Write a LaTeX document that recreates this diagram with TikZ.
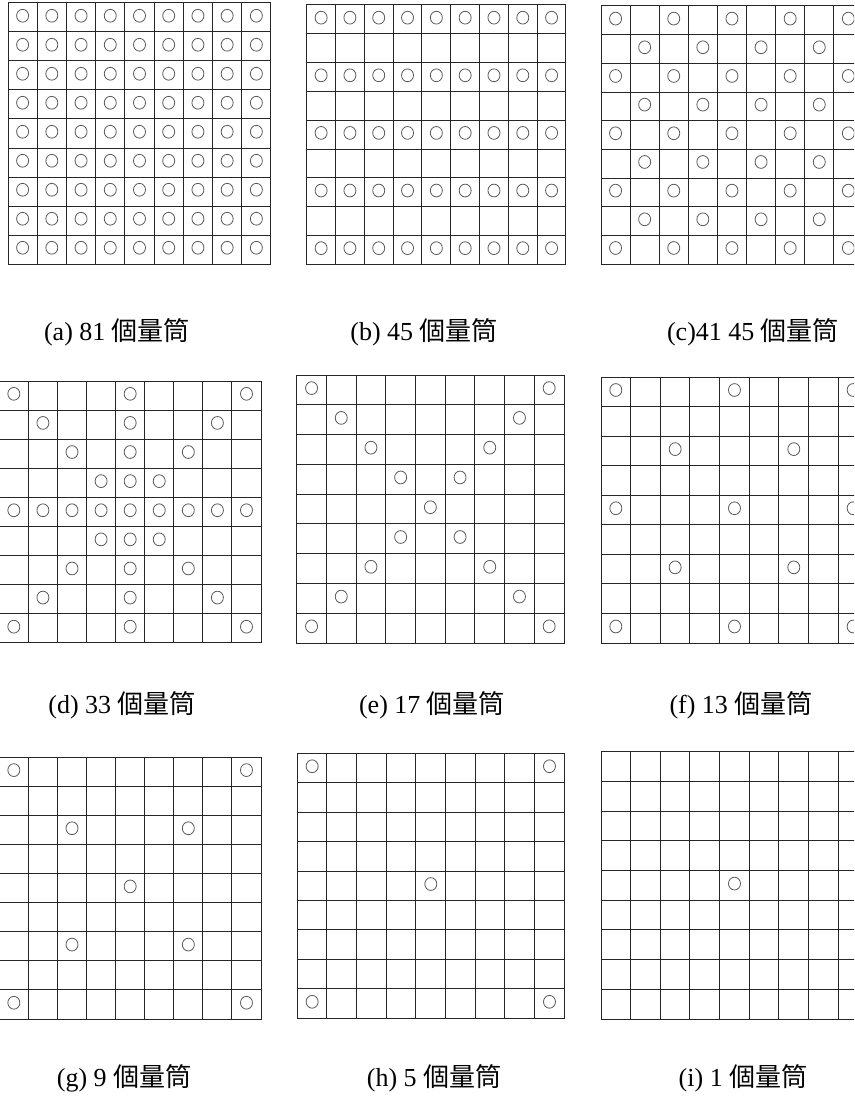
\documentclass[tikz,border=0pt]{standalone}
\usepackage{fontspec}
\setmainfont{Liberation Serif}
\newfontfamily\cjk{Noto Sans CJK TC}
\usetikzlibrary{positioning}

% 9x9 board in cell units
\newcommand{\ninegrid}{%
  \foreach \k in {0,...,9} {
    \draw[gridline] (\k,0) -- (\k,9);
    \draw[gridline] (0,\k) -- (9,\k);
  }}
\newcommand{\hole}[2]{\draw[holeline] (#2+0.5,#1+0.44) ellipse [x radius=6pt, y radius=6.4pt];}

\begin{document}
\begin{tikzpicture}[x=1pt,y=-1pt,
    gridline/.style={black!85,line width=1pt,line cap=rect},
    holeline/.style={black!65,line width=0.8pt},
    caption/.style={font=\fontsize{26}{30}\selectfont,inner sep=0pt}
  ]
  \useasboundingbox (0,0) rectangle (854,1097);
  \clip (0,0) rectangle (854,1097);

  % (a) every cell
  \begin{scope}[shift={(8pt,-3pt)},x=29.22pt,y=-29pt]
    \ninegrid
    \foreach \r in {0,...,8} \foreach \c in {0,...,8} {\hole{\r}{\c}}
  \end{scope}
  % (b) even rows
  \begin{scope}[shift={(306.7pt,-5pt)},x=28.81pt,y=-28.81pt]
    \ninegrid
    \foreach \r in {0,2,...,8} \foreach \c in {0,...,8} {\hole{\r}{\c}}
  \end{scope}
  % (c) checker
  \begin{scope}[shift={(601pt,-6pt)},x=29.1pt,y=-28.67pt]
    \ninegrid
    \foreach \r in {0,...,8} \foreach \c in {0,...,8} {
      \pgfmathparse{int(mod(\r+\c,2))}
      \ifnum\pgfmathresult=0 \hole{\r}{\c}\fi
    }
  \end{scope}
  % (d)
  \begin{scope}[shift={(-0.7pt,-381pt)},x=29.08pt,y=-29.11pt]
    \ninegrid
    \foreach \r/\cs in {0/{0,4,8},1/{1,4,7},2/{2,4,6},3/{3,4,5},4/{0,...,8},
                        5/{3,4,5},6/{2,4,6},7/{1,4,7},8/{0,4,8}}
      \foreach \c in \cs {\hole{\r}{\c}}
  \end{scope}
  % (e)
  \begin{scope}[shift={(296.7pt,-375pt)},x=29.7pt,y=-29.78pt]
    \ninegrid
    \foreach \r/\cs in {0/{0,8},1/{1,7},2/{2,6},3/{3,5},4/{4},
                        5/{3,5},6/{2,6},7/{1,7},8/{0,8}}
      \foreach \c in \cs {\hole{\r}{\c}}
  \end{scope}
  % (f)
  \begin{scope}[shift={(601pt,-377pt)},x=29.66pt,y=-29.56pt]
    \ninegrid
    \foreach \r/\cs in {0/{0,4,8},2/{2,6},4/{0,4,8},6/{2,6},8/{0,4,8}}
      \foreach \c in \cs {\hole{\r}{\c}}
  \end{scope}
  % (g)
  \begin{scope}[shift={(-0.7pt,-757.3pt)},x=29.08pt,y=-29.08pt]
    \ninegrid
    \foreach \r/\cs in {0/{0,8},2/{2,6},4/{4},6/{2,6},8/{0,8}}
      \foreach \c in \cs {\hole{\r}{\c}}
  \end{scope}
  % (h)
  \begin{scope}[shift={(297.3pt,-753.3pt)},x=29.67pt,y=-29.44pt]
    \ninegrid
    \foreach \r/\cs in {0/{0,8},4/{4},8/{0,8}}
      \foreach \c in \cs {\hole{\r}{\c}}
  \end{scope}
  % (i)
  \begin{scope}[shift={(601pt,-751.7pt)},x=29.66pt,y=-29.7pt]
    \ninegrid
    \hole{4}{4}
  \end{scope}

  % captions
  \node[caption] (capa) at (117,332) {(a) 81 {\cjk 個量筒}};
  \node[caption] (capb) at (424,332) {(b) 45 {\cjk 個量筒}};
  \node[caption] (capc) at (753,332) {(c)41 45 {\cjk 個量筒}};
  \node[caption] (capd) at (122,705) {(d) 33 {\cjk 個量筒}};
  \node[caption] (cape) at (432,705) {(e) 17 {\cjk 個量筒}};
  \node[caption] (capf) at (741,705) {(f) 13 {\cjk 個量筒}};
  \node[caption] (capg) at (124,1078) {(g) 9 {\cjk 個量筒}};
  \node[caption] (caph) at (434,1078) {(h) 5 {\cjk 個量筒}};
  \node[caption] (capi) at (743,1078) {(i) 1 {\cjk 個量筒}};
\end{tikzpicture}
\end{document}
